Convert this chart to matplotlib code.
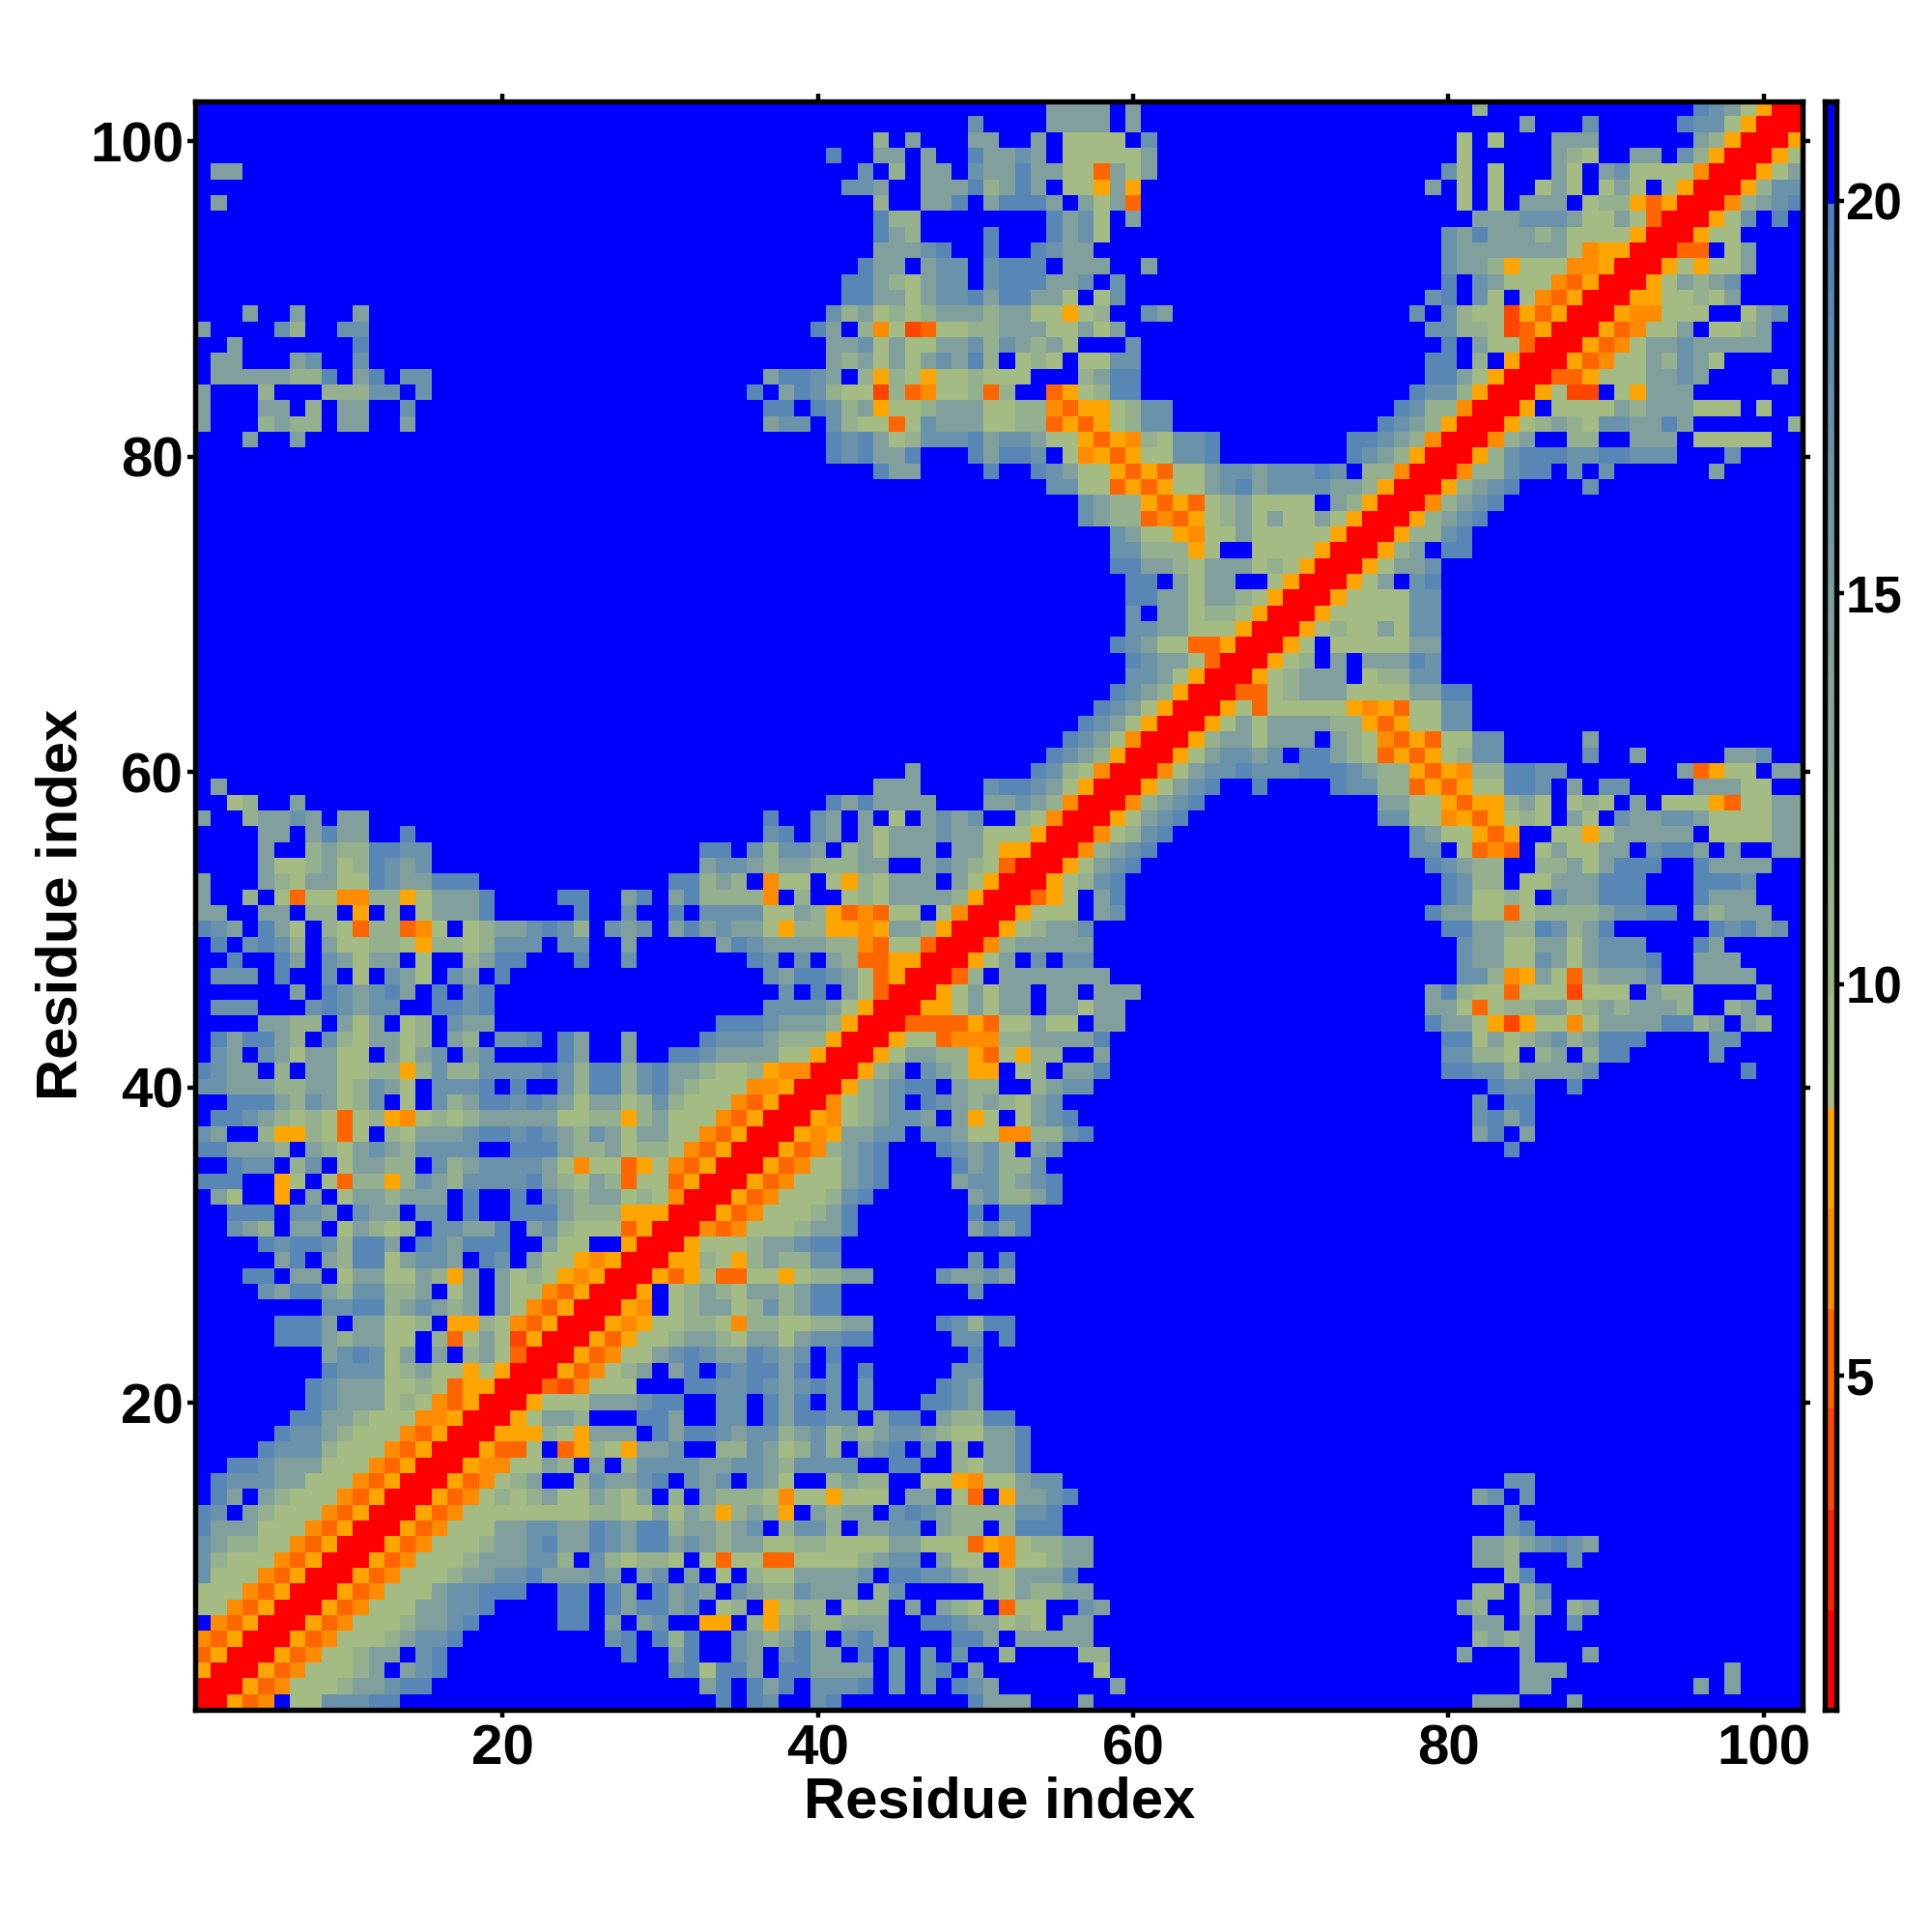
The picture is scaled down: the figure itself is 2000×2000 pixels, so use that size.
import numpy as np
import matplotlib
matplotlib.use("Agg")
import matplotlib.pyplot as plt
from matplotlib.colors import ListedColormap, BoundaryNorm, LinearSegmentedColormap

plt.rcParams['font.family'] = ['Liberation Sans', 'DejaVu Sans']
plt.rcParams['font.weight'] = 'bold'

N_RES = 102
TICKS = [20, 40, 60, 80, 100]
CBAR_TICKS = [5, 10, 15, 20]
XLABEL = "Residue index"
YLABEL = "Residue index"

# Cell classes -> distance value
LEVELS = {'r': 1.4, 'x': 4.0, 'd': 5.2, 'e': 6.5, 'o': 7.8,
          'g': 9.2, 'h': 11.5, 'i': 14.5, 'j': 16.8, 'k': 18.8, '.': 21.0}

# Matrix is symmetric; only x >= y is stored. Each panel: row y -> (first x, cells)
PANEL_A = {
 1: [(1, "rrode.ggjjjkk"), (34, "k")],
 2: [(2, "rrodeggghiijkk"), (33, "ik")],
 3: [(3, "rrodeggghi.ijk"), (31, "jkgk")],
 4: [(4, "rrodegghii.jk"), (28, "k"), (31, "ik")],
 5: [(5, "rrodeggghijjk"), (27, "jk.khk")],
 6: [(6, "rrodeggghiijk"), (24, "kk.i.ij..oo")],
 7: [(7, "rrodegggiijjk"), (24, "kk.kikkij.g")],
 8: [(8, "rrodegggijjkkk"), (24, "kk.ki.kiji")],
 9: [(9, "rrodeggghiijjkiiiji.ij.i.g")],
 10: [(10, "rrodeggghiiijjh.jhghhg.gd")],
 11: [(11, "rrodeggghiijkiikjikkijih")],
 12: [(12, "rrodegggiijjiikjikkhiih")],
 13: [(13, "rrodegggggggghhggigiho")],
 14: [(14, "rrodeghghiggihgi.h.ih")],
 15: [(15, "rrodeghi..hjiijk.jij")],
 16: [(16, "rroeeggih.i.hjjjjii")],
 17: [(17, "rroddg.dohgoiij..h")],
 18: [(18, "rrooohgoiii.kikkj")],
 19: [(19, "rrogiih...kki..j")],
 20: [(20, "rrogggiiijkk..j")],
 21: [(21, "rrdxeggg...kkj")],
 22: [(22, "rrodeghi.ik.k")],
 23: [(23, "rrodeggijkji")],
 24: [(24, "rrodogghiih")],
 25: [(25, "rroeogghhg")],
 26: [(26, "rroe.ghii")],
 27: [(27, "rro.ghih")],
 28: [(28, "rrodogd")],
 29: [(29, "rroohg")],
 30: [(30, "rrogg")],
 31: [(31, "rred")],
 32: [(32, "rro")],
 33: [(33, "rr")],
 34: [(34, "r")],
}
PANEL_B = {
 1: [(35, ".kj..jk........kiii...i")],
 2: [(35, ".kik.jjjk.j.j.kji.......i")],
 3: [(35, "ki.kkiiii.j.jk.i.......g")],
 4: [(35, "ji.jkii.k.j.j.j..h....hh")],
 5: [(35, "jihiki.jki....kki.iiiii")],
 6: [(35, ".hohihhiii..kkjiighg.ii")],
 7: [(35, "h.oghh.ghh.i.ihg.dgg..ji")],
 8: [(35, "jihhjiii.hj.....hgihhii")],
 9: [(35, ".hggiiiij.kkjjihhgiiik")],
 10: [(35, "ggddgggghijj.igg.egghii")],
 11: [(35, "iigghhggggiigggdoeghhii")],
 12: [(35, "ij.hjjh.iijj.ihh.hkkk")],
 13: [(35, "hiho.ihii.jkjihhhhjjk")],
 14: [(35, "hhgeggoggg.ii.gd.oiijk")],
 15: [(35, ".jig..hihh..ggoeggijj")],
 16: [(35, "jjihjjjj..kk..hgiik")],
 17: [(35, "hjighjh.ijk.j.h.iik")],
 18: [(35, "ijjhijhihijjihggiik")],
 19: [(35, "j.kikkjj.ikk.ihhkk")],
 20: [(35, "j.kik.j.j...kkji")],
 21: [(35, "jkjijkj.j....kji")],
 22: [(35, "jkkik.j.k.....jj")],
 23: [(35, "ikjij.k........k")],
 24: [(35, "giigijjkk.....jj.k")],
 25: [(35, "ehhgghhii....kjhkk")],
 26: [(35, "ghjhikk")],
 27: [(35, "giihikk........j")],
 28: [(35, "dggoghhii....jiiji")],
 29: [(35, "ohihhjj........j.k")],
 30: [(35, "ghiijkk")],
 31: [(35, "eggghiik.......ikik")],
 32: [(35, "deggghik.......k.kk")],
 33: [(35, "odeggghjk......ijhhik")],
 34: [(35, "rodegggijk....ijjhijk")],
}
PANEL_C = {
 1: [(82, "iii"), (88, "i")],
 2: [(85, "ii"), (96, "i"), (98, "i")],
 3: [(85, "iii"), (98, "i")],
 4: [(81, "i"), (85, "i"), (89, "i")],
 5: [(82, "hihi")],
 6: [(82, "ii"), (85, "i"), (88, "j")],
 7: [(81, "ih"), (85, "hi"), (88, "hi")],
 8: [(82, "hh"), (85, "hj")],
 9: [(84, "hk")],
 10: [(82, "iih"), (88, "j")],
 11: [(82, "iihijkji")],
 12: [(84, "jk")],
 13: [(84, "j")],
 14: [(82, "ij"), (85, "j")],
 15: [(84, "jj")],
}
PANEL_D = {
 35: [(35, "rrodeggijk....kijhhj")],
 36: [(36, "rrodehijk...kjijh.ij")],
 37: [(37, "rroeoiijj.jjiggeehhjk")],
 38: [(38, "rroeghijji.iog.gijk")],
 39: [(39, "rreghij.kjihihgij")],
 40: [(40, "rrohijkk.ihh..hijj")],
 41: [(41, "rrohi.jihoo.gh.iik")],
 42: [(42, "rrogiihhodgohh..i")],
 43: [(43, "rroggdeeehhiiiik")],
 44: [(44, "rrddddodggigg.ii")],
 45: [(45, "rroogigii.iigii")],
 46: [(46, "rrogigii.ii.iii")],
 47: [(47, "rrdh.iiiiiii")],
 48: [(48, "rrogi.j.jj")],
 49: [(49, "rrehiiiii")],
 50: [(50, "rroghiij")],
 51: [(51, "rroggg.ij")],
 52: [(52, "rrdog.ik")],
 53: [(53, "rroghjk")],
 54: [(54, "rrogijk")],
 55: [(55, "rrehijk")],
 56: [(56, "rreghjk")],
 57: [(57, "rrogijk")],
 58: [(58, "rrehijk")],
 59: [(59, "rrogijk..k")],
 60: [(60, "rregijjkj")],
 61: [(61, "rrogijji")],
 62: [(62, "rrohiig")],
 63: [(63, "rrogig")],
 64: [(64, "rrogd")],
 65: [(65, "rrdd")],
 66: [(66, "rro")],
 67: [(67, "rr")],
 68: [(68, "r")],
}
PANEL_E = {
 36: [(84, "k")],
 37: [(82, "ik.i")],
 38: [(82, "jkik")],
 39: [(82, "j.kk")],
 40: [(83, "kjj"), (88, "k")],
 41: [(80, "kkjjhiiiij"), (99, "k")],
 42: [(80, "jjhhg.hi.hkk"), (97, "j")],
 43: [(80, "kkgighijhikkk"), (97, "jj")],
 44: [(79, "kiigoxoggegiiiikkhi.ih")],
 45: [(79, "iigdghhiighihiiih"), (98, "hi")],
 46: [(79, "ikhggdgggxggg.ihh"), (100, "i")],
 47: [(81, "jjheoigdhiiij"), (96, "iiii")],
 48: [(81, "jiiggjigijjjk"), (96, "iii")],
 49: [(81, "jiiggiigijjj"), (96, "ki")],
 50: [(80, "kkiihhkjhik"), (97, "kjkij")],
 51: [(79, "kiiggdghhhhijjkk"), (96, "ihiii")],
 52: [(80, "kjgghg.jiikkk"), (96, "kiii")],
 53: [(80, "kjhh.ggiiikkk"), (96, "kkkj")],
 54: [(79, "kjihh..hhigikkk"), (96, "kiiii")],
 55: [(78, "jj.gded.giggii.jkki.i..ii")],
 56: [(78, "jiggodo..ggogiiiii.ggggii")],
 57: [(76, "jjggeodoghg.ig.jiijjiggggii")],
 58: [(76, "iiggodoohig.ghg.i.gggodggii")],
 59: [(73, "kjjhhdodoggkkj.i.jj"), (96, "iiigg")],
 60: [(69, "jjkkkjihhodoehhkkjj"), (95, "idogg.ii")],
 61: [(69, "j.kkihgdodoghjj"), (89, "j"), (92, "i"), (98, "iij")],
 62: [(69, "iii.ihgedodggjj"), (89, "i")],
 63: [(69, "iiiihhodoggjj")],
 64: [(69, "gggggoeodggjj")],
 65: [(69, "ghiiiggggiikk")],
 66: [(69, "ghiii.ghhjj")],
 67: [(69, "ogh.i.iiikj")],
 68: [(69, "rog.gggggii")],
}
PANEL_F = {
 69: [(69, "rroghggigjj")],
 70: [(70, "rrogggggjj")],
 71: [(71, "rroggggjj")],
 72: [(72, "rrogi.jk")],
 73: [(73, "rrogiij")],
 74: [(74, "rrohi.kk")],
 75: [(75, "rrohhjk")],
 76: [(76, "rrohijk")],
 77: [(77, "rrehijk")],
 78: [(78, "rrohijk....j")],
 79: [(79, "rrehhjkk.j.j......i")],
 80: [(80, "rrohjkkkjjkkjjj...j")],
 81: [(81, "rrehi..hh..iii.ggggg")],
 82: [(82, "rroghihgjjiiki......h")],
 83: [(83, "rro.ggggihiiiggg.g")],
 84: [(84, "rrogxx.goiii")],
 85: [(85, "rrddogggiiji....i")],
 86: [(86, "rrodeggihjig")],
 87: [(87, "rrodegiijiiiii")],
 88: [(88, "rrodeggi.gghi")],
 89: [(89, "rroeeggg..gij")],
 90: [(90, "rroogghgi")],
 91: [(91, "rrogihij")],
 92: [(92, "rrogoggi")],
 93: [(93, "rrdd.gi")],
 94: [(94, "rrogg")],
 95: [(95, "rrogj.k")],
 96: [(96, "rrehijk")],
 97: [(97, "rrohjj")],
 98: [(98, "rrogi")],
 99: [(99, "rrog")],
 100: [(100, "rro")],
 101: [(101, "rr")],
 102: [(102, "r")],
}

Z = np.full((N_RES, N_RES), LEVELS['.'])
for panel in (PANEL_A, PANEL_B, PANEL_C, PANEL_D, PANEL_E, PANEL_F):
    for y, segments in panel.items():
        for x0, cells in segments:
            for k, c in enumerate(cells):
                Z[y - 1, x0 - 1 + k] = LEVELS[c]
                Z[x0 - 1 + k, y - 1] = LEVELS[c]

# Colour scale: six stepped warm bands, a smooth ramp, then pure blue above 20
WARM_EDGES = [0.73, 2.01, 3.29, 4.58, 5.86, 7.14, 8.42]
WARM_COLORS = ['#FF0000', '#FF2200', '#FF4500', '#FF6600', '#FF8C00', '#FFA500']
RAMP_STOPS = [(0.0, '#A9BF80'), (0.565, '#7F9F9F'), (1.0, '#4C7FBF')]
CBAR_TOP = 21.27
ramp = LinearSegmentedColormap.from_list('ramp', RAMP_STOPS)
ramp_edges = np.linspace(8.42, 19.97, 41)
edges = WARM_EDGES + list(ramp_edges[1:]) + [CBAR_TOP]
colors = WARM_COLORS + [ramp((v - 8.42) / 11.55) for v in 0.5 * (ramp_edges[:-1] + ramp_edges[1:])] + ['#0000FF']
cmap = ListedColormap(colors)
norm = BoundaryNorm(edges, cmap.N)

W = H = 2000
fig = plt.figure(figsize=(20, 20), dpi=100, facecolor='white')

def axes_px(x0, x1, ytop, ybot):
    return fig.add_axes([x0 / W, 1 - ybot / H, (x1 - x0) / W, (ybot - ytop) / H])

SPINE = 3.9
TICK_LEN = 5.5
TICK_W = 3.2

ax = axes_px(202, 1866.4, 105.2, 1770.4)
ax.imshow(Z, origin='lower', extent=(0.5, N_RES + 0.5, 0.5, N_RES + 0.5),
          cmap=cmap, norm=norm, aspect='auto', interpolation='nearest')
ax.set_xticks(TICKS)
ax.set_yticks(TICKS)
ax.tick_params(axis='both', which='major', top=True, right=True, direction='out',
               length=TICK_LEN, width=TICK_W, labelsize=42)
ax.tick_params(axis='x', pad=5)
ax.tick_params(axis='y', pad=3)
for lab in ax.get_xticklabels() + ax.get_yticklabels():
    lab.set_fontweight('bold')
for s in ax.spines.values():
    s.set_linewidth(SPINE)

fig.text(1035 / W, 1 - 1866 / H, XLABEL, ha='center', va='center', fontsize=43, fontweight='bold')
fig.text(64 / W, 1 - 936 / H, YLABEL, ha='center', va='center', rotation=90, fontsize=43, fontweight='bold')

cax = axes_px(1889.3, 1901.3, 105.2, 1770.4)
cb_edges = np.array(edges)
cax.pcolormesh([0, 1], cb_edges, 0.5 * (cb_edges[:-1] + cb_edges[1:]).reshape(-1, 1),
               cmap=cmap, norm=norm, shading='flat')
cax.set_ylim(edges[0], edges[-1])
cax.set_xticks([])
cax.yaxis.tick_right()
cax.set_yticks(CBAR_TICKS)
cax.tick_params(axis='y', direction='out', length=TICK_LEN, width=TICK_W, labelsize=38, pad=1)
for lab in cax.get_yticklabels():
    lab.set_fontweight('bold')
for s in cax.spines.values():
    s.set_linewidth(SPINE)

fig.savefig('out.png', dpi=100, facecolor='white')
